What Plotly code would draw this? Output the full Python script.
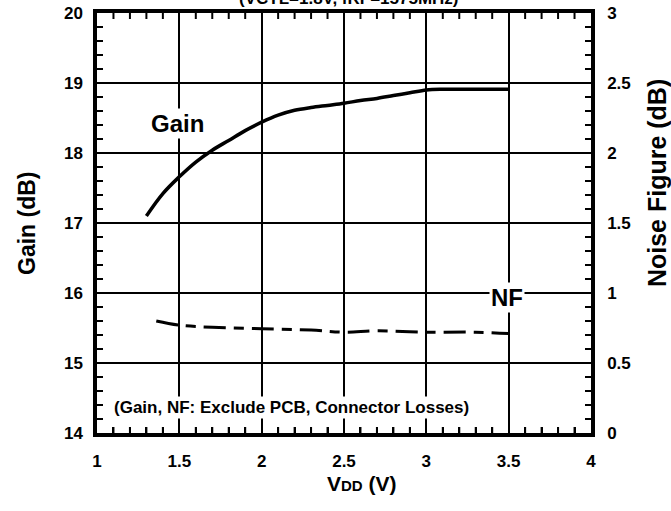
import numpy as np
import plotly.graph_objects as go

# dados
vdd_gain = [1.3, 1.4, 1.5, 1.6, 1.7, 1.8, 1.9, 2.0, 2.1, 2.2, 2.3, 2.4, 2.5,
            2.6, 2.7, 2.8, 2.9, 3.0, 3.1, 3.2, 3.3, 3.4, 3.5]
gain = [17.1, 17.42, 17.66, 17.87, 18.04, 18.18, 18.32, 18.44, 18.54, 18.61,
        18.65, 18.68, 18.71, 18.75, 18.78, 18.82, 18.86, 18.9, 18.91, 18.91,
        18.91, 18.91, 18.91]

vdd_nf = [1.36, 1.5, 1.7, 2.0, 2.3, 2.5, 2.7, 3.0, 3.3, 3.5]
nf = [0.80, 0.77, 0.755, 0.745, 0.735, 0.72, 0.73, 0.72, 0.72, 0.71]

# faixas e passos dos eixos
x_range, x_passo = [1, 4], 0.5
gain_range, gain_passo = [14, 20], 1
nf_range, nf_passo = [0, 3], 0.5

fonte = "Liberation Sans, Arial, sans-serif"

fig = go.Figure()
fig.add_trace(go.Scatter(x=vdd_gain, y=gain, mode="lines", line=dict(color="black", width=3.5),
                         line_shape="spline", showlegend=False, hoverinfo="skip"))
fig.add_trace(go.Scatter(x=vdd_nf, y=nf, mode="lines", yaxis="y2",
                         line=dict(color="black", width=3, dash="22px,8px,10px,8px"),
                         line_shape="spline", showlegend=False, hoverinfo="skip"))

eixo = dict(showline=True, linecolor="black", linewidth=3.5, zeroline=False, automargin=False,
            tickfont=dict(family=fonte, size=17, color="black", weight="bold"),
            ticks="inside", ticklen=6, tickwidth=2, tickcolor="black", tickmode="linear")

menor = dict(ticks="inside", ticklen=6, tickwidth=2, tickcolor="black", showgrid=False)

fig.update_layout(
    width=671, height=511,
    margin=dict(l=97, r=80, t=13, b=78),
    paper_bgcolor="white", plot_bgcolor="white",
    font=dict(family=fonte, color="black"),
    showlegend=False,
    xaxis=dict(**eixo, range=x_range, tick0=x_range[0], dtick=x_passo, mirror=True,
               showgrid=True, gridcolor="black", gridwidth=2,
               ticklabelstandoff=10, minor=dict(**menor, dtick=x_passo / 5)),
    yaxis=dict(**eixo, range=gain_range, tick0=gain_range[0], dtick=gain_passo,
               showgrid=True, gridcolor="black", gridwidth=2,
               ticklabelstandoff=7, minor=dict(**menor, dtick=gain_passo / 5)),
    yaxis2=dict(**eixo, range=nf_range, tick0=nf_range[0], dtick=nf_passo,
                overlaying="y", side="right", showgrid=False,
                ticklabelstandoff=9, minor=dict(**menor, dtick=nf_passo / 5)),
)

# tracinhos menores (para dentro) nas quatro bordas, como shapes de 6px
traco = dict(type="line", line=dict(color="black", width=2), layer="above")
for v in np.arange(x_range[0], x_range[1], x_passo / 5)[1:]:
    if abs(v / x_passo - round(v / x_passo)) < 1e-6:
        continue
    fig.add_shape(**traco, xref="x", yref="paper", ysizemode="pixel", yanchor=0,
                  x0=v, x1=v, y0=0, y1=6)
    fig.add_shape(**traco, xref="x", yref="paper", ysizemode="pixel", yanchor=1,
                  x0=v, x1=v, y0=0, y1=-6)
for v in np.arange(gain_range[0], gain_range[1], gain_passo / 5)[1:]:
    if abs(v / gain_passo - round(v / gain_passo)) < 1e-6:
        continue
    fig.add_shape(**traco, xref="paper", yref="y", xsizemode="pixel", xanchor=0,
                  x0=0, x1=6, y0=v, y1=v)
    fig.add_shape(**traco, xref="paper", yref="y", xsizemode="pixel", xanchor=1,
                  x0=0, x1=-6, y0=v, y1=v)

fig.add_annotation(text="<b>Gain (dB)</b>", xref="paper", yref="paper", x=-97/494, y=0.5,
                   xanchor="left", textangle=-90, showarrow=False,
                   font=dict(size=23), xshift=12)
fig.add_annotation(text="<b>Noise Figure (dB)</b>", xref="paper", yref="paper", x=1, y=0.595,
                   xanchor="center", textangle=-90, showarrow=False,
                   font=dict(size=25), xshift=66)
fig.add_annotation(text="<b>V<span style='font-size:15px'>DD</span> (V)</b>", xref="paper",
                   yref="paper", x=(362 - 97) / 494, y=0, yshift=-64, showarrow=False,
                   font=dict(size=21))
fig.add_annotation(text="<b>(VCTL=1.8V, fRF=1575MHz)</b>", xref="paper", yref="paper",
                   x=(349 - 97) / 494, y=1, yanchor="bottom", yshift=3, showarrow=False,
                   font=dict(size=17))
fig.add_annotation(text="<b>Gain</b>", x=1.49, y=18.42, showarrow=False,
                   bgcolor="white", font=dict(size=24))
fig.add_annotation(text="<b>NF</b>", x=3.49, y=15.93, showarrow=False,
                   bgcolor="white", font=dict(size=24))
fig.add_annotation(text="<b>(Gain, NF: Exclude PCB, Connector Losses)</b>", x=1.09, y=14.37,
                   xanchor="left", showarrow=False, bgcolor="white", font=dict(size=17))

# a pagina tem margem de 8px no body; zera para o grafico ocupar a janela toda
fig.write_html("out.html", config={"displayModeBar": False},
               post_script="document.body.style.margin='0';")
